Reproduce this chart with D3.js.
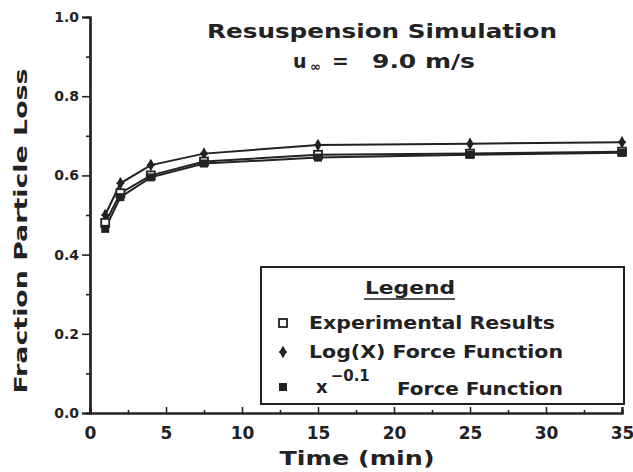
<!DOCTYPE html>
<html><head><meta charset="utf-8">
<script src="https://cdn.jsdelivr.net/npm/d3@7"></script>
<style>
body{margin:0;background:#fff;}
svg{display:block;}
text{font-family:"DejaVu Sans",sans-serif;font-weight:bold;fill:#222;}
</style></head>
<body><svg id="c" width="633" height="472"></svg>
<script>
const times = [1, 2, 4, 7.5, 15, 25, 35];
const experimental = [0.48, 0.555, 0.60, 0.635, 0.652, 0.655, 0.660];
const logForce = [0.50, 0.580, 0.626, 0.655, 0.677, 0.680, 0.684];
const powForce = [0.465, 0.545, 0.595, 0.630, 0.645, 0.652, 0.657];
const xTicks = [0, 5, 10, 15, 20, 25, 30, 35];
const yTicks = [0.0, 0.2, 0.4, 0.6, 0.8, 1.0];
const xMinor = [2.5, 7.5, 12.5, 17.5, 22.5, 27.5, 32.5];
const yMinor = [0.1, 0.3, 0.5, 0.7, 0.9];

const svg = d3.select("#c");
const x = d3.scaleLinear().domain([0, 35]).range([90, 622]);
const y = d3.scaleLinear().domain([0, 1]).range([413, 17]);
const ink = "#222";

// axes
const yAx = svg.append("g").attr("transform", `translate(${x(0)},0)`)
  .call(d3.axisLeft(y).tickValues(yTicks).tickFormat(d3.format(".1f")).tickSize(8).tickPadding(3));
yAx.selectAll("text").style("font-size", "14px");
svg.append("g").attr("transform", `translate(${x(0)},0)`)
  .call(d3.axisLeft(y).tickValues(yMinor).tickFormat("").tickSize(4));
const xAx = svg.append("g").attr("transform", `translate(0,${y(0)})`)
  .call(d3.axisBottom(x).tickValues(xTicks).tickSize(-6).tickPadding(14));
xAx.selectAll("text").style("font-size", "17px");
svg.append("g").attr("transform", `translate(0,${y(0)})`)
  .call(d3.axisBottom(x).tickValues(xMinor).tickFormat("").tickSize(-3));
svg.selectAll(".domain").attr("stroke", ink).attr("stroke-width", 2.2);
svg.selectAll(".tick line").attr("stroke", ink).attr("stroke-width", 1.6);
svg.selectAll(".tick text").style("fill", ink);

// series
const line = d3.line().x((d, i) => x(times[i])).y(d => y(d));
const series = [
  {vals: logForce, marker: "plus"},
  {vals: experimental, marker: "open"},
  {vals: powForce, marker: "filled"}
];
series.forEach(s => {
  svg.append("path").datum(s.vals).attr("d", line)
    .attr("fill", "none").attr("stroke", ink).attr("stroke-width", 2);
});
function marker(g, type, cx, cy) {
  if (type === "open") {
    g.append("rect").attr("x", cx - 4).attr("y", cy - 4).attr("width", 8).attr("height", 8)
      .attr("fill", "#fff").attr("stroke", ink).attr("stroke-width", 1.8);
  } else if (type === "filled") {
    g.append("rect").attr("x", cx - 4).attr("y", cy - 4).attr("width", 8).attr("height", 8)
      .attr("fill", ink);
  } else {
    g.append("path").attr("d", d3.symbol(d3.symbolDiamond, 45)())
      .attr("transform", `translate(${cx},${cy})`).attr("fill", ink);
    g.append("path").attr("d", `M${cx-4},${cy}H${cx+4}M${cx},${cy-5}V${cy+5}`)
      .attr("stroke", ink).attr("stroke-width", 1.6);
  }
}
series.forEach(s => {
  const g = svg.append("g");
  s.vals.forEach((v, i) => marker(g, s.marker, x(times[i]), y(v)));
});

// titles
svg.append("text").attr("x", 382).attr("y", 38).attr("text-anchor", "middle")
  .attr("textLength", 350).attr("lengthAdjust", "spacingAndGlyphs")
  .style("font-size", "20px").text("Resuspension Simulation");
svg.append("text").attr("x", 293).attr("y", 68).style("font-size", "19px").text("u");
svg.append("text").attr("x", 310).attr("y", 71).style("font-size", "13px").text("∞");
svg.append("text").attr("x", 332).attr("y", 68).style("font-size", "20px").text("=");
svg.append("text").attr("x", 372).attr("y", 68).attr("textLength", 103).attr("lengthAdjust", "spacingAndGlyphs")
  .style("font-size", "20px").text("9.0 m/s");

// axis titles
svg.append("text").attr("x", 357).attr("y", 465).attr("text-anchor", "middle")
  .attr("textLength", 155).attr("lengthAdjust", "spacingAndGlyphs")
  .style("font-size", "20px").text("Time (min)");
svg.append("text").attr("transform", "translate(27,231) rotate(-90)").attr("text-anchor", "middle")
  .attr("textLength", 325).attr("lengthAdjust", "spacingAndGlyphs")
  .style("font-size", "18px").text("Fraction Particle Loss");

// legend
const lg = svg.append("g");
lg.append("rect").attr("x", 261).attr("y", 267).attr("width", 363).attr("height", 137)
  .attr("fill", "#fff").attr("stroke", ink).attr("stroke-width", 2);
lg.append("text").attr("x", 410).attr("y", 294).attr("text-anchor", "middle")
  .attr("textLength", 90).attr("lengthAdjust", "spacingAndGlyphs")
  .style("font-size", "18px").text("Legend");
lg.append("line").attr("x1", 364).attr("x2", 455).attr("y1", 299).attr("y2", 299)
  .attr("stroke", ink).attr("stroke-width", 1.6);
const legendLabels = ["Experimental Results", "Log(X) Force Function"];
const legendMarkers = ["open", "plus", "filled"];
const rowY = [323, 352, 387];
legendMarkers.forEach((m, i) => marker(lg, m, 283, rowY[i]));
lg.append("text").attr("x", 309).attr("y", 329).attr("textLength", 246).attr("lengthAdjust", "spacingAndGlyphs")
  .style("font-size", "17px").text(legendLabels[0]);
lg.append("text").attr("x", 309).attr("y", 358).attr("textLength", 254).attr("lengthAdjust", "spacingAndGlyphs")
  .style("font-size", "17px").text(legendLabels[1]);
const r3 = lg.append("text").attr("x", 316).attr("y", 393).style("font-size", "18px");
r3.append("tspan").text("x");
r3.append("tspan").attr("dy", -12).attr("dx", 3).style("font-size", "15px").text("−0.1");
lg.append("text").attr("x", 397).attr("y", 395).attr("textLength", 166).attr("lengthAdjust", "spacingAndGlyphs")
  .style("font-size", "17px").text("Force Function");
</script></body></html>
